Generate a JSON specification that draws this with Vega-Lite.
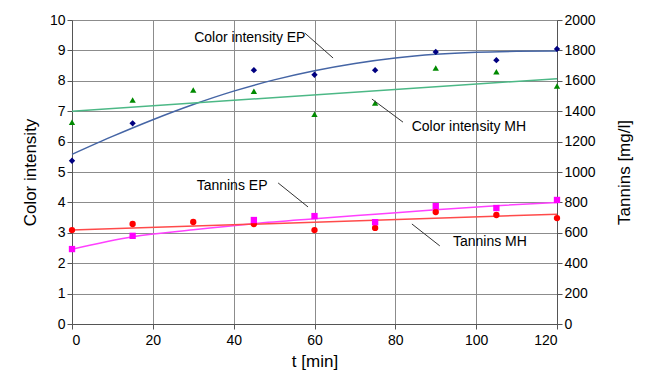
{
  "$schema": "https://vega.github.io/schema/vega-lite/v6.json",
  "width": 485,
  "height": 304,
  "autosize": {"type": "none"},
  "padding": {"left": 72, "top": 20, "right": 89, "bottom": 57},
  "background": "white",
  "config": {
    "font": "Liberation Sans",
    "view": {"stroke": null},
    "axis": {
      "labelFont": "Liberation Sans",
      "titleFont": "Liberation Sans",
      "labelFontSize": 14,
      "titleFontSize": 17,
      "titleFontWeight": "normal",
      "labelColor": "#000",
      "titleColor": "#000",
      "domainColor": "#555",
      "tickColor": "#555",
      "gridColor": "#8c8c8c",
      "gridOpacity": 1
    }
  },
  "datasets": {
    "ci": [
      {"t": 0, "series": "EP", "ci": 5.37},
      {"t": 15, "series": "EP", "ci": 6.6},
      {"t": 45, "series": "EP", "ci": 8.35},
      {"t": 60, "series": "EP", "ci": 8.2},
      {"t": 75, "series": "EP", "ci": 8.35},
      {"t": 90, "series": "EP", "ci": 8.95},
      {"t": 105, "series": "EP", "ci": 8.68},
      {"t": 120, "series": "EP", "ci": 9.05},
      {"t": 0, "series": "MH", "ci": 6.64},
      {"t": 15, "series": "MH", "ci": 7.37},
      {"t": 30, "series": "MH", "ci": 7.7},
      {"t": 45, "series": "MH", "ci": 7.66},
      {"t": 60, "series": "MH", "ci": 6.9},
      {"t": 75, "series": "MH", "ci": 7.27},
      {"t": 90, "series": "MH", "ci": 8.42},
      {"t": 105, "series": "MH", "ci": 8.3},
      {"t": 120, "series": "MH", "ci": 7.83}
    ],
    "ciTrend": [
      {"t": 0, "series": "EP", "ci": 5.58},
      {"t": 10, "series": "EP", "ci": 6.17},
      {"t": 20, "series": "EP", "ci": 6.72},
      {"t": 30, "series": "EP", "ci": 7.22},
      {"t": 40, "series": "EP", "ci": 7.66},
      {"t": 50, "series": "EP", "ci": 8.03},
      {"t": 60, "series": "EP", "ci": 8.33},
      {"t": 70, "series": "EP", "ci": 8.57},
      {"t": 80, "series": "EP", "ci": 8.75},
      {"t": 90, "series": "EP", "ci": 8.87},
      {"t": 100, "series": "EP", "ci": 8.94},
      {"t": 110, "series": "EP", "ci": 8.97},
      {"t": 120, "series": "EP", "ci": 8.98},
      {"t": 0, "series": "MH", "ci": 7.0},
      {"t": 120, "series": "MH", "ci": 8.07}
    ],
    "tan": [
      {"t": 0, "series": "EP", "tan": 493},
      {"t": 15, "series": "EP", "tan": 580},
      {"t": 45, "series": "EP", "tan": 684},
      {"t": 60, "series": "EP", "tan": 710},
      {"t": 75, "series": "EP", "tan": 670},
      {"t": 90, "series": "EP", "tan": 776},
      {"t": 105, "series": "EP", "tan": 763},
      {"t": 120, "series": "EP", "tan": 816},
      {"t": 0, "series": "MH", "tan": 618},
      {"t": 15, "series": "MH", "tan": 658},
      {"t": 30, "series": "MH", "tan": 671},
      {"t": 45, "series": "MH", "tan": 658},
      {"t": 60, "series": "MH", "tan": 618},
      {"t": 75, "series": "MH", "tan": 632},
      {"t": 90, "series": "MH", "tan": 737},
      {"t": 105, "series": "MH", "tan": 717},
      {"t": 120, "series": "MH", "tan": 697}
    ],
    "tanTrend": [
      {"t": 0, "series": "EP", "tan": 492},
      {"t": 15, "series": "EP", "tan": 574},
      {"t": 30, "series": "EP", "tan": 620},
      {"t": 45, "series": "EP", "tan": 660},
      {"t": 60, "series": "EP", "tan": 692},
      {"t": 75, "series": "EP", "tan": 722},
      {"t": 90, "series": "EP", "tan": 752},
      {"t": 105, "series": "EP", "tan": 778},
      {"t": 120, "series": "EP", "tan": 800},
      {"t": 0, "series": "MH", "tan": 618},
      {"t": 120, "series": "MH", "tan": 722}
    ],
    "labels": [
      {"label": "Color intensity EP", "t": 44, "ci": 9.41},
      {"label": "Color intensity MH", "t": 98.2, "ci": 6.48},
      {"label": "Tannins EP", "t": 39.6, "ci": 4.54},
      {"label": "Tannins MH", "t": 103.4, "ci": 2.7}
    ],
    "leaders": [
      {"label": "Color intensity EP", "t": 57.6, "ci": 9.57, "t2": 64.6, "ci2": 8.75},
      {"label": "Color intensity MH", "t": 74.2, "ci": 7.4, "t2": 81.9, "ci2": 6.64},
      {"label": "Tannins EP", "t": 51, "ci": 4.64, "t2": 58.4, "ci2": 3.85},
      {"label": "Tannins MH", "t": 84.1, "ci": 3.29, "t2": 91, "ci2": 2.57}
    ]
  },
  "layer": [
    {
      "encoding": {
        "x": {
          "field": "t", "type": "quantitative",
          "scale": {"domain": [0, 120], "nice": false},
          "axis": {"values": [0, 20, 40, 60, 80, 100, 120], "title": "t [min]", "grid": true, "titlePadding": 6, "labelPadding": 4}
        },
        "y": {
          "field": "ci", "type": "quantitative",
          "scale": {"domain": [0, 10], "nice": false},
          "axis": {"orient": "left", "values": [0,1,2,3,4,5,6,7,8,9,10], "title": "Color intensity", "grid": true, "titlePadding": 10}
        }
      },
      "layer": [
        {
          "data": {"name": "ciTrend"},
          "mark": {"type": "line", "strokeWidth": 1.5, "interpolate": "monotone"},
          "encoding": {
            "detail": {"field": "series"},
            "color": {"field": "series", "type": "nominal", "scale": {"domain": ["EP", "MH"], "range": ["#4565a5", "#4cb886"]}, "legend": null}
          }
        },
        {
          "data": {"name": "ci"},
          "transform": [{"filter": "datum.series === 'EP'"}],
          "mark": {"type": "point", "shape": "diamond", "filled": true, "color": "#000080", "size": 40, "opacity": 1}
        },
        {
          "data": {"name": "ci"},
          "transform": [{"filter": "datum.series === 'MH'"}],
          "mark": {"type": "point", "shape": "triangle-up", "filled": true, "color": "#008a00", "size": 40, "opacity": 1}
        },
        {
          "data": {"name": "leaders"},
          "mark": {"type": "rule", "color": "#333", "strokeWidth": 1},
          "encoding": {"x2": {"field": "t2"}, "y2": {"field": "ci2"}}
        },
        {
          "data": {"name": "labels"},
          "mark": {"type": "text", "fontSize": 14, "color": "#000", "align": "center", "baseline": "middle"},
          "encoding": {"text": {"field": "label"}}
        }
      ]
    },
    {
      "encoding": {
        "x": {"field": "t", "type": "quantitative", "scale": {"domain": [0, 120], "nice": false}},
        "y": {
          "field": "tan", "type": "quantitative",
          "scale": {"domain": [0, 2000], "nice": false},
          "axis": {"orient": "right", "values": [0,200,400,600,800,1000,1200,1400,1600,1800,2000], "format": "d", "title": "Tannins [mg/l]", "titleAngle": -90, "grid": false, "titlePadding": 38}
        }
      },
      "layer": [
        {
          "data": {"name": "tanTrend"},
          "mark": {"type": "line", "strokeWidth": 1.5, "interpolate": "monotone"},
          "encoding": {
            "detail": {"field": "series"},
            "color": {"field": "series", "type": "nominal", "scale": {"domain": ["EP", "MH"], "range": ["#ff40ff", "#ff4a4a"]}, "legend": null}
          }
        },
        {
          "data": {"name": "tan"},
          "transform": [{"filter": "datum.series === 'MH'"}],
          "mark": {"type": "point", "shape": "circle", "filled": true, "color": "#ff0000", "size": 40, "opacity": 1}
        },
        {
          "data": {"name": "tan"},
          "transform": [{"filter": "datum.series === 'EP'"}],
          "mark": {"type": "point", "shape": "square", "filled": true, "color": "#ff00ff", "size": 40, "opacity": 1}
        }
      ]
    }
  ],
  "resolve": {"scale": {"y": "independent", "color": "independent"}}
}
